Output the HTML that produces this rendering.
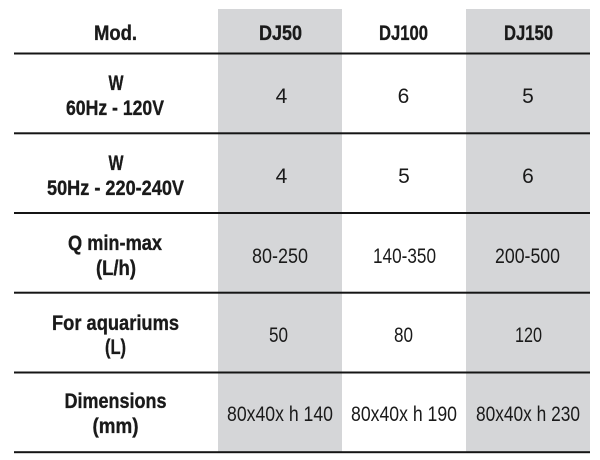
<!DOCTYPE html>
<html>
<head>
<meta charset="utf-8">
<style>
html,body{margin:0;padding:0;background:#fff;}
svg{display:block;}
text{font-family:"Liberation Sans",sans-serif;fill:#1a1a1a;text-anchor:middle;}
.b{font-weight:bold;font-size:21px;stroke:#1a1a1a;stroke-width:0.35px;}
.r{font-size:21px;}
</style>
</head>
<body>
<svg width="600" height="460" viewBox="0 0 600 460" xmlns="http://www.w3.org/2000/svg">
<rect x="0" y="0" width="600" height="460" fill="#fff"/>
<rect x="218" y="9" width="124" height="444" fill="#d5d6d8"/>
<rect x="466" y="9" width="124" height="444" fill="#d5d6d8"/>
<g fill="#151515">
<rect x="14" y="52.5" width="576" height="2"/>
<rect x="14" y="132.3" width="576" height="2"/>
<rect x="14" y="212" width="576" height="2"/>
<rect x="14" y="291.7" width="576" height="2"/>
<rect x="14" y="371.5" width="576" height="2"/>
<rect x="14" y="451.2" width="576" height="2"/>
</g>
<!-- header -->
<text class="b" x="115.5" y="40" textLength="43" lengthAdjust="spacingAndGlyphs">Mod.</text>
<text class="b" x="280.5" y="40" textLength="43" lengthAdjust="spacingAndGlyphs">DJ50</text>
<text class="b" x="403.5" y="40" textLength="49" lengthAdjust="spacingAndGlyphs">DJ100</text>
<text class="b" x="528.5" y="40" textLength="49" lengthAdjust="spacingAndGlyphs">DJ150</text>
<!-- row1 -->
<text class="b" x="116" y="90" textLength="15" lengthAdjust="spacingAndGlyphs">W</text>
<text class="b" x="115" y="115" textLength="98" lengthAdjust="spacingAndGlyphs">60Hz - 120V</text>
<text class="r" x="281.5" y="103">4</text>
<text class="r" x="403.5" y="103">6</text>
<text class="r" x="528" y="103">5</text>
<!-- row2 -->
<text class="b" x="116" y="170" textLength="15" lengthAdjust="spacingAndGlyphs">W</text>
<text class="b" x="115.5" y="195" textLength="137" lengthAdjust="spacingAndGlyphs">50Hz - 220-240V</text>
<text class="r" x="281.5" y="183">4</text>
<text class="r" x="404" y="183">5</text>
<text class="r" x="528" y="183">6</text>
<!-- row3 -->
<text class="b" x="115" y="250" textLength="94" lengthAdjust="spacingAndGlyphs">Q min-max</text>
<text class="b" x="116" y="275" textLength="40" lengthAdjust="spacingAndGlyphs">(L/h)</text>
<text class="r" x="280" y="263" textLength="56" lengthAdjust="spacingAndGlyphs">80-250</text>
<text class="r" x="404.5" y="263" textLength="63" lengthAdjust="spacingAndGlyphs">140-350</text>
<text class="r" x="527.5" y="263" textLength="65" lengthAdjust="spacingAndGlyphs">200-500</text>
<!-- row4 -->
<text class="b" x="115.5" y="330" textLength="127" lengthAdjust="spacingAndGlyphs">For aquariums</text>
<text class="b" x="115.5" y="354" textLength="21" lengthAdjust="spacingAndGlyphs">(L)</text>
<text class="r" x="278.5" y="342" textLength="19" lengthAdjust="spacingAndGlyphs">50</text>
<text class="r" x="403.5" y="342" textLength="19" lengthAdjust="spacingAndGlyphs">80</text>
<text class="r" x="528.5" y="342" textLength="27" lengthAdjust="spacingAndGlyphs">120</text>
<!-- row5 -->
<text class="b" x="115.5" y="408" textLength="102" lengthAdjust="spacingAndGlyphs">Dimensions</text>
<text class="b" x="115.5" y="433" textLength="46" lengthAdjust="spacingAndGlyphs">(mm)</text>
<text class="r" x="280" y="421" textLength="106" lengthAdjust="spacingAndGlyphs">80x40x h 140</text>
<text class="r" x="404" y="421" textLength="106" lengthAdjust="spacingAndGlyphs">80x40x h 190</text>
<text class="r" x="528" y="421" textLength="104" lengthAdjust="spacingAndGlyphs">80x40x h 230</text>
</svg>
</body>
</html>
